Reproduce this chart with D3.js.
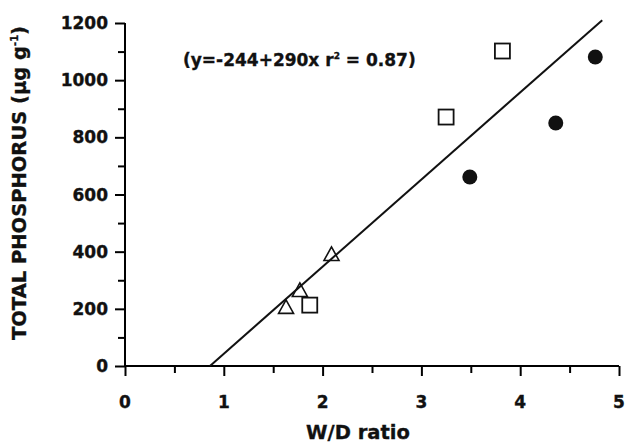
<!doctype html>
<html>
  <head>
    <meta charset="utf-8" />
    <title>Total phosphorus vs W/D ratio</title>
    <script type="text/javascript" src="https://cdnjs.cloudflare.com/ajax/libs/d3/7.8.5/d3.min.js"></script>
    <style>
      body { margin:0; background:#fff; }
      svg text { font-family: "DejaVu Sans", sans-serif; font-weight:700; fill:#111; stroke:#111; stroke-width:0.35px; }
    </style>
  </head>
  <body>
    <div id="chart"></div>
    <script type="text/javascript">

/*values*/
var circleX = [3.49, 4.36, 4.76];
var circleY = [661, 850, 1081];
var squareX = [1.87, 3.25, 3.82];
var squareY = [213, 871, 1102];
var triangleX = [1.63, 1.77, 2.09];
var triangleY = [207, 266, 392];

/*fitted line end points as drawn*/
var fitX = [0.86, 4.83];
var fitY = [0, 1210];

var xTicks = [0, 1, 2, 3, 4, 5];
var yTicks = [0, 200, 400, 600, 800, 1000, 1200];

var W = 626, H = 443;
var m = {left:125, right:7, top:23, bottom:77};

var svg = d3.select("#chart").append("svg")
  .attr("width", W).attr("height", H);

var x = d3.scaleLinear().domain([0, 5]).range([m.left, W - m.right]);
var y = d3.scaleLinear().domain([0, 1200]).range([H - m.bottom, m.top]);

/*x axis: major + minor ticks*/
var xAxis = svg.append("g").attr("transform", "translate(0," + y(0) + ")");
xAxis.call(d3.axisBottom(x).tickValues(d3.range(0, 5.01, 0.5)).tickSize(7).tickFormat(""));
xAxis.call(function(g) {
  g.selectAll(".tick line").attr("stroke-width", 2)
    .attr("y2", function(d) { return d % 1 === 0 ? 10 : 7; });
});
xAxis.select(".domain").attr("d", "M" + x(0) + ",0H" + x(5)).attr("stroke-width", 2);

svg.append("g").selectAll("text").data(xTicks).join("text")
  .attr("x", function(d) { return x(d); })
  .attr("y", y(0) + 42)
  .attr("text-anchor", "middle")
  .attr("font-size", 17)
  .text(function(d) { return d; });

/*y axis*/
var yAxis = svg.append("g").attr("transform", "translate(" + x(0) + ",0)");
yAxis.call(d3.axisLeft(y).tickValues(d3.range(0, 1201, 100)).tickSize(7).tickFormat(""));
yAxis.call(function(g) {
  g.selectAll(".tick line").attr("stroke-width", 2)
    .attr("x2", function(d) { return d % 200 === 0 ? -10 : -7; });
});
yAxis.select(".domain").attr("d", "M0," + y(0) + "V" + y(1200)).attr("stroke-width", 2);

svg.append("g").selectAll("text").data(yTicks).join("text")
  .attr("x", x(0) - 17)
  .attr("y", function(d) { return y(d); })
  .attr("dy", "0.36em")
  .attr("text-anchor", "end")
  .attr("font-size", 17)
  .text(function(d) { return d; });

/*axis titles*/
svg.append("text")
  .attr("x", 358).attr("y", y(0) + 73)
  .attr("text-anchor", "middle")
  .attr("font-size", 19.5)
  .text("W/D ratio");

var yt = svg.append("text")
  .attr("transform", "translate(26," + 183 + ") rotate(-90)")
  .attr("text-anchor", "middle")
  .attr("font-size", 19.5);
yt.append("tspan").text("TOTAL PHOSPHORUS (\u00B5g g");
yt.append("tspan").attr("dy", -8).attr("font-size", 10).text("-1");
yt.append("tspan").attr("dy", 8).text(")");

/*equation*/
var eq = svg.append("text")
  .attr("x", 183).attr("y", 66)
  .attr("font-size", 17);
eq.append("tspan").text("(y=-244+290x r");
eq.append("tspan").attr("dy", -7).attr("font-size", 9).text("2");
eq.append("tspan").attr("dy", 7).text(" = 0.87)");

/*fitted line*/
svg.append("path")
  .datum(d3.zip(fitX, fitY))
  .attr("fill", "none")
  .attr("stroke", "#111")
  .attr("stroke-width", 2)
  .attr("d", d3.line().x(function(d) { return x(d[0]); }).y(function(d) { return y(d[1]); }));

/*filled circles*/
svg.append("g").selectAll("circle").data(d3.zip(circleX, circleY)).join("circle")
  .attr("cx", function(d) { return x(d[0]); })
  .attr("cy", function(d) { return y(d[1]); })
  .attr("r", 7.5)
  .attr("fill", "#111");

/*open squares*/
svg.append("g").selectAll("rect").data(d3.zip(squareX, squareY)).join("rect")
  .attr("x", function(d) { return x(d[0]) - 7.5; })
  .attr("y", function(d) { return y(d[1]) - 7.5; })
  .attr("width", 15).attr("height", 15)
  .attr("fill", "#fff")
  .attr("stroke", "#111")
  .attr("stroke-width", 1.8);

/*open triangles*/
svg.append("g").selectAll("path").data(d3.zip(triangleX, triangleY)).join("path")
  .attr("transform", function(d) { return "translate(" + x(d[0]) + "," + y(d[1]) + ")"; })
  .attr("d", "M0,-7L7.5,6.5L-7.5,6.5Z")
  .attr("fill", "none")
  .attr("stroke", "#111")
  .attr("stroke-width", 1.6);

    </script>
  </body>
</html>
